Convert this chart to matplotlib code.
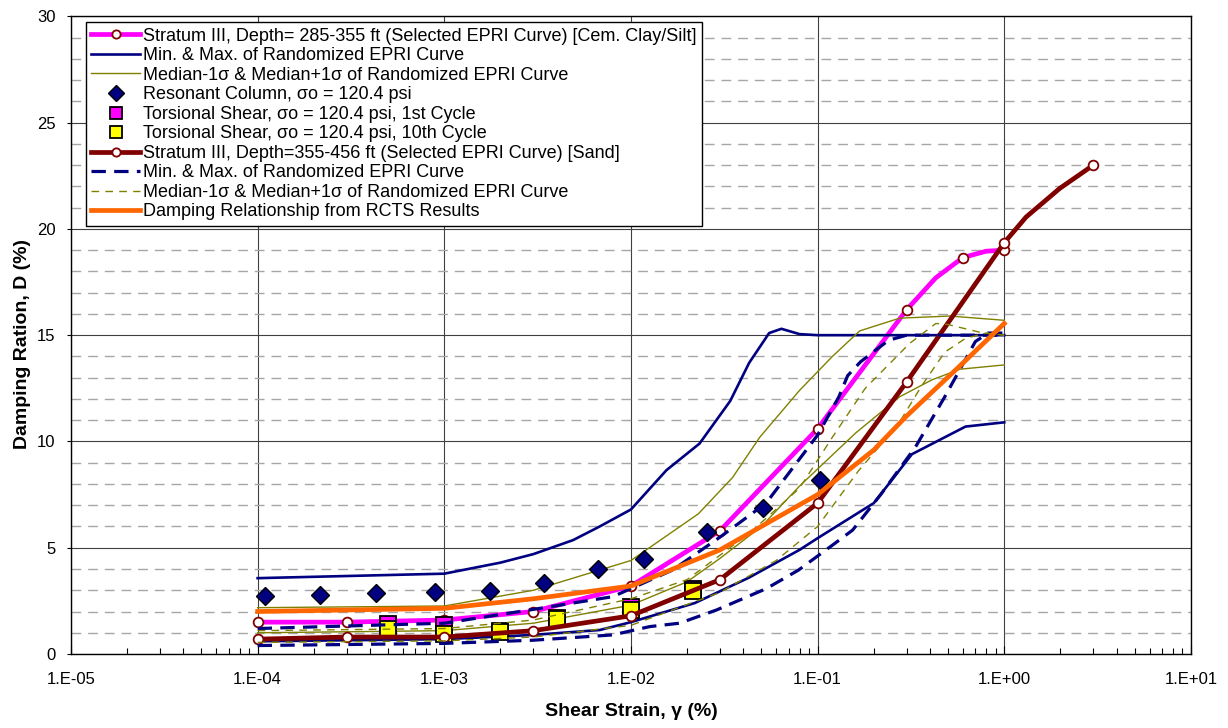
import numpy as np
import matplotlib
matplotlib.use("Agg")
import matplotlib.pyplot as plt
from matplotlib.ticker import FixedLocator, FixedFormatter, LogLocator, NullFormatter, MultipleLocator

plt.rcParams['font.family'] = ['Liberation Sans', 'DejaVu Sans']

# --- Stratum III, 285-355 ft, clay/silt (selected EPRI curve) ---
clay_x = [1e-4, 3e-4, 1e-3, 3e-3, 1e-2, 3e-2, 1e-1, 3e-1, 4.3e-1, 0.6, 0.8, 1.0]
clay_d = [1.5, 1.5, 1.6, 2.0, 3.2, 5.8, 10.6, 16.2, 17.7, 18.65, 18.95, 19.0]
clay_mk = [0, 1, 2, 3, 4, 5, 6, 7, 9, 11]

clay_max_x = [1e-4, 1e-3, 2e-3, 3e-3, 4.9e-3, 6.8e-3, 1e-2, 1.55e-2, 2.33e-2, 3.4e-2, 4.3e-2, 5.5e-2, 6.4e-2, 8e-2, 1e-1, 1.0]
clay_max_d = [3.57, 3.78, 4.3, 4.7, 5.36, 6.0, 6.8, 8.65, 9.9, 11.9, 13.7, 15.1, 15.3, 15.05, 15.0, 15.0]
clay_min_x = [1e-4, 1e-3, 3e-3, 6.8e-3, 1e-2, 2.2e-2, 4.3e-2, 8e-2, 1e-1, 2e-1, 3.2e-1, 6.2e-1, 1.0]
clay_min_d = [0.6, 0.7, 0.9, 1.13, 1.5, 2.4, 3.6, 4.9, 5.45, 7.1, 9.4, 10.7, 10.9]

clay_hi_x = [1e-4, 1e-3, 3e-3, 1e-2, 2.3e-2, 3.5e-2, 4.9e-2, 8e-2, 1.2e-1, 1.68e-1, 2.75e-1, 5.1e-1, 1.0]
clay_hi_d = [2.18, 2.26, 3.0, 4.4, 6.6, 8.3, 10.2, 12.4, 14.0, 15.2, 15.8, 15.9, 15.7]
clay_lo_x = [1e-4, 1e-3, 3e-3, 1e-2, 2e-2, 3e-2, 5e-2, 8e-2, 1.6e-1, 2.75e-1, 4.1e-1, 5.8e-1, 1.0]
clay_lo_d = [1.0, 1.1, 1.45, 2.3, 3.4, 4.5, 6.0, 7.9, 10.4, 12.1, 12.9, 13.4, 13.6]

# --- lab tests ---
rc_x = [1.09e-4, 2.17e-4, 4.32e-4, 8.87e-4, 1.75e-3, 3.44e-3, 6.7e-3, 1.17e-2, 2.57e-2, 5.07e-2, 1.035e-1]
rc_d = [2.74, 2.77, 2.88, 2.93, 2.96, 3.32, 3.98, 4.45, 5.76, 6.85, 8.18]
ts_x = [5.0e-4, 1.0e-3, 1.98e-3, 4.0e-3, 1.0e-2, 2.16e-2]
ts1_d = [1.42, 1.35, 1.1, 1.68, 2.2, 3.05]
ts10_d = [1.17, 0.95, 1.05, 1.63, 2.07, 2.98]

# --- Stratum III, 355-456 ft, sand (selected EPRI curve) ---
sand_x = [1e-4, 3e-4, 1e-3, 3e-3, 1e-2, 3e-2, 1e-1, 3e-1, 1.0, 1.31, 1.98, 3.0]
sand_d = [0.7, 0.8, 0.8, 1.1, 1.8, 3.5, 7.1, 12.8, 19.35, 20.56, 21.9, 23.0]
sand_mk = [0, 1, 2, 3, 4, 5, 6, 7, 8, 11]

sand_max_x = [1e-4, 1e-3, 3e-3, 8e-3, 1.67e-2, 3e-2, 5.3e-2, 1e-1, 1.3e-1, 1.45e-1, 1.7e-1, 2.4e-1, 3e-1, 1.0]
sand_max_d = [1.2, 1.45, 2.1, 2.7, 3.95, 5.5, 7.1, 10.3, 12.1, 13.1, 13.75, 14.76, 15.0, 15.0]
sand_min_x = [1e-4, 1e-3, 3e-3, 8e-3, 1.26e-2, 1.82e-2, 2.87e-2, 5.32e-2, 7.9e-2, 1.2e-1, 1.54e-1, 2.2e-1, 3.35e-1, 4.8e-1, 7e-1, 8.2e-1, 1.0]
sand_min_d = [0.4, 0.5, 0.65, 0.9, 1.29, 1.45, 2.07, 3.08, 3.95, 5.12, 5.83, 7.55, 9.75, 12.1, 14.7, 15.1, 15.1]

sand_hi_x = [1e-4, 1e-3, 3e-3, 1e-2, 2e-2, 4.3e-2, 8e-2, 1.2e-1, 1.8e-1, 3.1e-1, 4.3e-1, 5e-1, 7.7e-1, 1.0]
sand_hi_d = [1.1, 1.2, 1.6, 2.6, 3.5, 5.67, 7.8, 10.2, 12.5, 14.6, 15.55, 15.5, 15.1, 15.0]
sand_lo_x = [1e-4, 1e-3, 3e-3, 1e-2, 3e-2, 6e-2, 1e-1, 1.65e-1, 2.7e-1, 3.6e-1, 4.8e-1, 6.2e-1, 8e-1, 1.0]
sand_lo_d = [0.55, 0.62, 0.8, 1.35, 2.9, 4.4, 6.0, 8.6, 10.8, 12.6, 14.2, 14.85, 15.1, 15.0]

# --- RCTS damping relationship ---
rcts_x = [1e-4, 1e-3, 3e-3, 1e-2, 3e-2, 1e-1, 2e-1, 3e-1, 5.7e-1, 1.0]
rcts_d = [2.0, 2.15, 2.6, 3.2, 4.9, 7.5, 9.6, 11.2, 13.5, 15.55]

x_ticks = [1e-5, 1e-4, 1e-3, 1e-2, 1e-1, 1e0, 1e1]
x_labels = ['1.E-05', '1.E-04', '1.E-03', '1.E-02', '1.E-01', '1.E+00', '1.E+01']

PINK = '#FF00FF'
NAVY = '#000080'
OLIVE = '#808000'
MAROON = '#800000'
ORANGE = '#FF6600'

fig = plt.figure(figsize=(12.28, 7.28), dpi=100)
ax = fig.add_axes([0.0578, 0.1016, 0.912, 0.876])
ax.set_xscale('log')

circ = dict(marker='o', ms=7, mfc='white', mec=MAROON, mew=1.3)
nd = (4.5, 2.6)
od = (5.5, 4.5)

ax.plot(clay_x, clay_d, color=PINK, lw=3.4, markevery=clay_mk, zorder=5,
        label='Stratum III, Depth= 285-355 ft (Selected EPRI Curve) [Cem. Clay/Silt]', **circ)
ax.plot(clay_max_x, clay_max_d, color=NAVY, lw=1.9, zorder=5,
        label='Min. & Max. of Randomized EPRI Curve')
ax.plot(clay_min_x, clay_min_d, color=NAVY, lw=1.9, zorder=5)
ax.plot(clay_hi_x, clay_hi_d, color=OLIVE, lw=1.0, zorder=5,
        label='Median-1σ & Median+1σ of Randomized EPRI Curve')
ax.plot(clay_lo_x, clay_lo_d, color=OLIVE, lw=1.0, zorder=5)
ax.plot(rc_x, rc_d, ls='none', marker='D', ms=9, mfc=NAVY, mec='black', mew=1, zorder=6,
        label='Resonant Column, σo = 120.4 psi')
ax.plot(ts_x, ts1_d, ls='none', marker='s', ms=11, mfc=PINK, mec='black', mew=1.3, zorder=6,
        label='Torsional Shear, σo = 120.4 psi, 1st Cycle')
ax.plot(ts_x, ts10_d, ls='none', marker='s', ms=11, mfc='yellow', mec='black', mew=1.3, zorder=6,
        label='Torsional Shear, σo = 120.4 psi, 10th Cycle')
ax.plot(sand_x, sand_d, color=MAROON, lw=3.4, markevery=sand_mk, zorder=7,
        label='Stratum III, Depth=355-456 ft (Selected EPRI Curve) [Sand]', **circ)
ax.plot(sand_max_x, sand_max_d, color=NAVY, lw=2.3, dashes=nd, zorder=7,
        label='Min. & Max. of Randomized EPRI Curve')
ax.plot(sand_min_x, sand_min_d, color=NAVY, lw=2.3, dashes=nd, zorder=7)
ax.plot(sand_hi_x, sand_hi_d, color=OLIVE, lw=1.0, dashes=od, zorder=7,
        label='Median-1σ & Median+1σ of Randomized EPRI Curve')
ax.plot(sand_lo_x, sand_lo_d, color=OLIVE, lw=1.0, dashes=od, zorder=7)
ax.plot(rcts_x, rcts_d, color=ORANGE, lw=3.4, zorder=8,
        label='Damping Relationship from RCTS Results')

ax.set_xlim(1e-5, 1e1)
ax.set_ylim(0, 30)
ax.xaxis.set_major_locator(FixedLocator(x_ticks))
ax.xaxis.set_major_formatter(FixedFormatter(x_labels))
ax.xaxis.set_minor_locator(LogLocator(base=10, subs=np.arange(2, 10), numticks=20))
ax.xaxis.set_minor_formatter(NullFormatter())
ax.yaxis.set_major_locator(MultipleLocator(5))
ax.yaxis.set_minor_locator(MultipleLocator(1))

ax.grid(which='major', color='#404040', lw=0.8, zorder=0)
ax.grid(which='minor', axis='y', color='#A6A6A6', lw=1.0, dashes=(7, 5), zorder=0)
ax.grid(which='minor', axis='x', visible=False)
ax.set_axisbelow(True)

ax.tick_params(axis='x', which='both', direction='in', labelsize=12)
ax.tick_params(axis='x', which='major', length=6, width=0.8, pad=13)
ax.tick_params(axis='x', which='minor', length=4, width=0.8)
ax.tick_params(axis='y', which='major', direction='out', length=3, width=0.8, labelsize=12, pad=8)
ax.tick_params(axis='y', which='minor', length=0)
for s in ax.spines.values():
    s.set_color('black')
    s.set_linewidth(1.0)

ax.set_xlabel('Shear Strain, γ (%)', fontsize=14, fontweight='bold', va='top')
ax.set_ylabel('Damping Ration, D (%)', fontsize=14, fontweight='bold')
ax.xaxis.set_label_coords(0.5, -0.076)
ax.yaxis.set_label_coords(-0.036, 0.486)

leg = ax.legend(loc='upper left', bbox_to_anchor=(0.0134, 0.9906), borderaxespad=0,
                fontsize=13, frameon=True, fancybox=False, framealpha=1,
                edgecolor='black', handlelength=2.7, handletextpad=0.15,
                labelspacing=0.14, borderpad=0.3, numpoints=1, markerscale=0.85)
leg.get_frame().set_linewidth(1.0)
leg.set_zorder(20)

fig.savefig('out.png', dpi=100)
